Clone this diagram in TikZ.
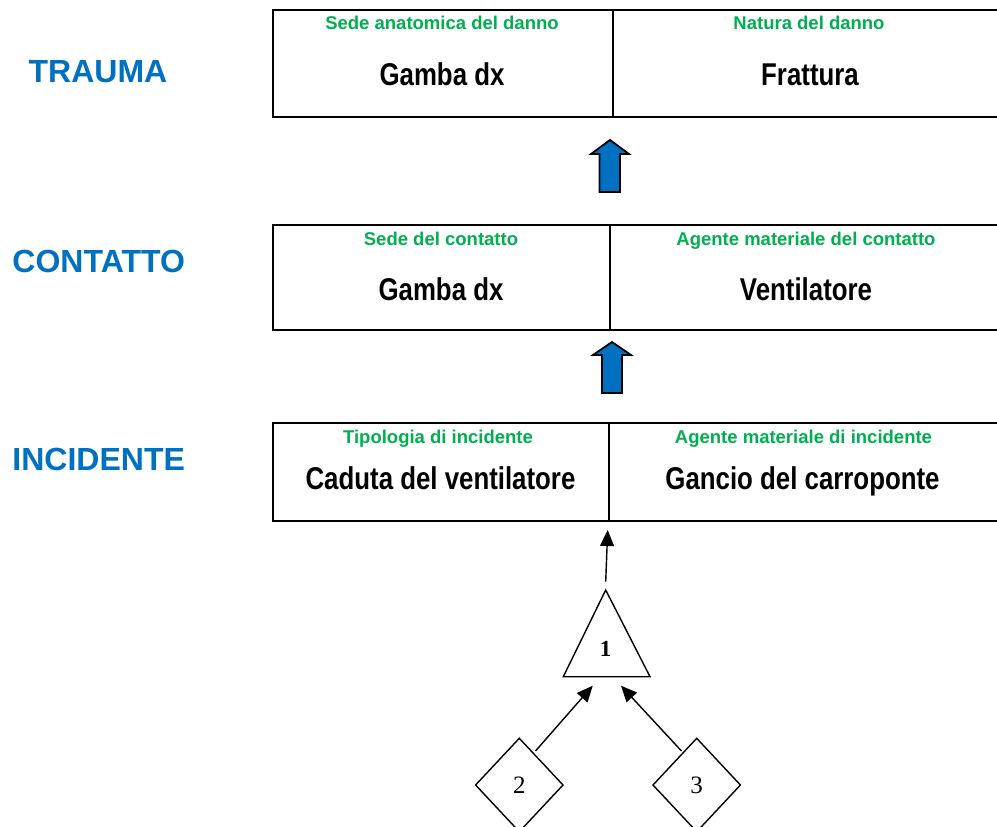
\documentclass[tikz,border=0pt]{standalone}
\usepackage{fontspec}
\setmainfont{Liberation Sans}
\newfontfamily\narrowb[FakeStretch=0.82]{Liberation Sans Bold}
\newfontfamily\serifnum{Liberation Serif}
\usetikzlibrary{arrows.meta,shapes.geometric}
\definecolor{titleblue}{HTML}{0070C0}
\definecolor{labgreen}{HTML}{00B050}
\definecolor{arrowblue}{HTML}{0070C0}
\begin{document}
\begin{tikzpicture}[x=1pt,y=-1pt,
  cell/.style={draw, line width=2pt, anchor=north west, inner sep=0pt},
  greenlab/.style={anchor=base, inner sep=0pt, text=labgreen, font=\bfseries\fontsize{18.5}{20}\selectfont},
  biglab/.style={anchor=base, inner sep=0pt, font=\narrowb\fontsize{31.5}{34}\selectfont},
  title/.style={anchor=base, inner sep=0pt, text=titleblue, font=\bfseries\fontsize{32}{36}\selectfont},
  blockarrow/.style={fill=arrowblue, draw=black, line width=1.8pt, line join=miter},
  shapeline/.style={draw, line width=1.4pt},
  conn/.style={line width=1.4pt, -{Triangle[length=16pt,width=14pt]}},
  diam/.style={diamond, draw, line width=1.4pt, minimum width=88pt, minimum height=94pt, inner sep=0pt, font=\serifnum\fontsize{25}{27}\selectfont}
]
\clip (0,0) rectangle (997,827);
\fill[white] (0,0) rectangle (997,827);

% titles
\node[title] (tTrauma) at (98,82.7) {TRAUMA};
\node[title] (tContatto) at (98.7,272.7) {CONTATTO};
\node[title] (tIncidente) at (98.7,470.7) {INCIDENTE};

% top row
\node[cell, minimum width=340pt, minimum height=107pt] (c11) at (272,9) {};
\node[cell, minimum width=400pt, minimum height=107pt] (c12) at (612,9) {};
\node[greenlab] (g11) at (442,29.7) {Sede anatomica del danno};
\node[greenlab] (g12) at (809,29.7) {Natura del danno};
\node[biglab] (b11) at (442,85.7) {Gamba dx};
\node[biglab] (b12) at (810,85.7) {Frattura};

% middle row
\node[cell, minimum width=337pt, minimum height=105pt] (c21) at (272,224) {};
\node[cell, minimum width=400pt, minimum height=105pt] (c22) at (609,224) {};
\node[greenlab] (g21) at (441,245.5) {Sede del contatto};
\node[greenlab] (g22) at (806,245.5) {Agente materiale del contatto};
\node[biglab] (b21) at (441,300.5) {Gamba dx};
\node[biglab] (b22) at (806,300.5) {Ventilatore};

% bottom row
\node[cell, minimum width=336pt, minimum height=98pt] (c31) at (272,422) {};
\node[cell, minimum width=400pt, minimum height=98pt] (c32) at (608,422) {};
\node[greenlab] (g31) at (438,443.3) {Tipologia di incidente};
\node[greenlab] (g32) at (803.5,443.3) {Agente materiale di incidente};
\node[biglab] (b31) at (440.5,489.3) {Caduta del ventilatore};
\node[biglab] (b32) at (802.5,489.3) {Gancio del carroponte};

% block arrows
\draw[blockarrow] (610,140) -- (629,154) -- (620,154) -- (620,192) -- (599.5,192) -- (599.5,154) -- (591,154) -- cycle;
\draw[blockarrow] (612,342) -- (631,355) -- (622,355) -- (622,393) -- (602,393) -- (602,355) -- (593,355) -- cycle;

% triangle 1
\coordinate (tA) at (605.7,590);
\coordinate (tL) at (563.3,676.7);
\coordinate (tR) at (650,676.7);
\draw[shapeline, line join=miter] (tA) -- (tL) -- (tR) -- cycle;
\node[inner sep=0pt, font=\serifnum\bfseries\fontsize{23}{25}\selectfont] (n1) at (605.7,649.3) {1};

% diamonds
\node[diam] (d2) at (519.3,785) {2};
\node[diam] (d3) at (696.7,785) {3};

% connectors
\coordinate (a1s) at (605.7,581.7);
\coordinate (a1e) at (607.7,530);
\draw[conn] (a1s) -- (a1e);
\coordinate (a2s) at (535.5,751);
\coordinate (a2e) at (592.7,685.7);
\draw[conn] (a2s) -- (a2e);
\coordinate (a3s) at (681.5,751);
\coordinate (a3e) at (621,685.7);
\draw[conn] (a3s) -- (a3e);
\end{tikzpicture}
\end{document}
